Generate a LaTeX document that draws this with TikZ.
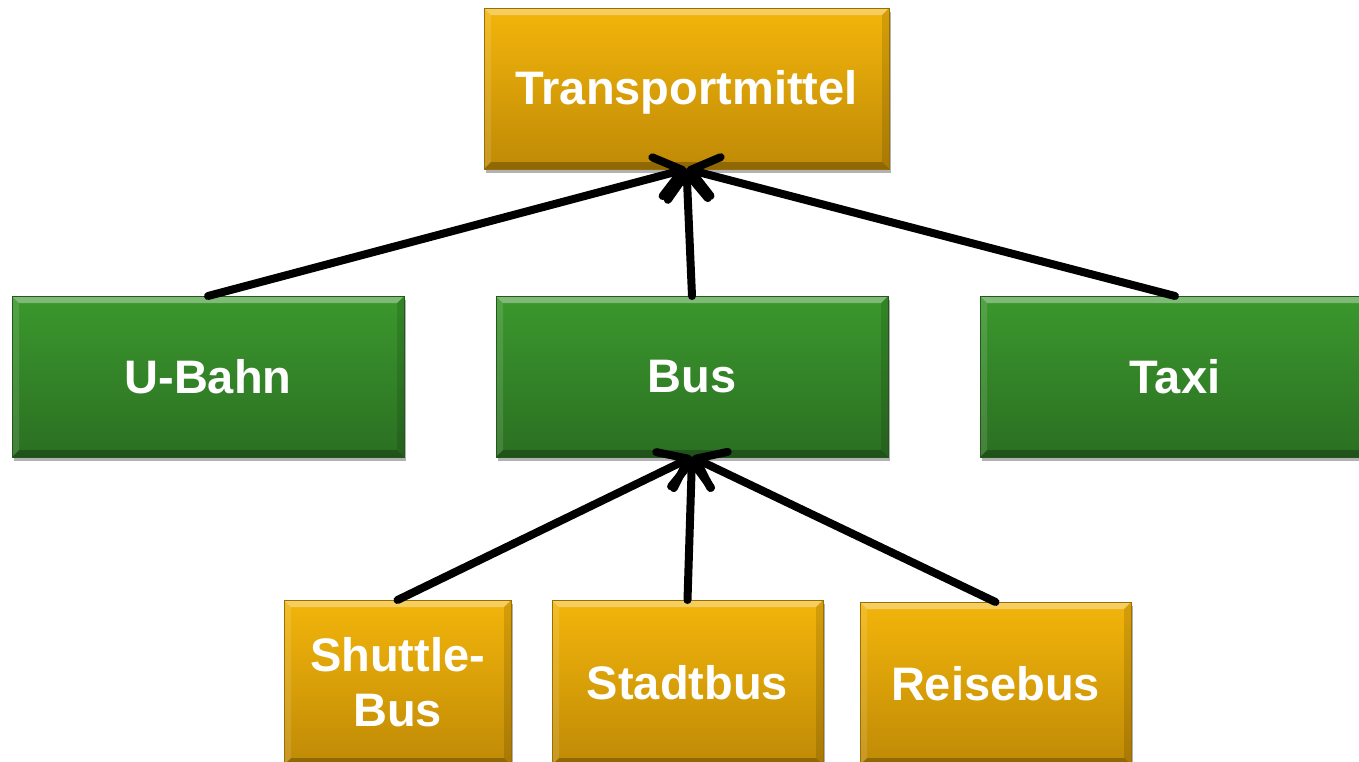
\documentclass[tikz,border=0pt]{standalone}
\usepackage{fontspec}
\setmainfont{Liberation Sans}
\usetikzlibrary{arrows.meta,shadows}
\definecolor{orT}{HTML}{F3B50B}
\definecolor{orB}{HTML}{BF8A06}
\definecolor{grT}{HTML}{3B982D}
\definecolor{grB}{HTML}{2B6F22}
\tikzset{
  bevel/.style={path picture={
    \fill[white,opacity=.35] (path picture bounding box.north west) -- (path picture bounding box.north east)
      -- ([xshift=-7pt,yshift=-7pt]path picture bounding box.north east) -- ([xshift=7pt,yshift=-7pt]path picture bounding box.north west) -- cycle;
    \fill[white,opacity=.12] (path picture bounding box.north west) -- (path picture bounding box.south west)
      -- ([xshift=7pt,yshift=7pt]path picture bounding box.south west) -- ([xshift=7pt,yshift=-7pt]path picture bounding box.north west) -- cycle;
    \fill[black,opacity=.12] (path picture bounding box.north east) -- (path picture bounding box.south east)
      -- ([xshift=-7pt,yshift=7pt]path picture bounding box.south east) -- ([xshift=-7pt,yshift=-7pt]path picture bounding box.north east) -- cycle;
    \fill[black,opacity=.25] (path picture bounding box.south west) -- (path picture bounding box.south east)
      -- ([xshift=-7pt,yshift=7pt]path picture bounding box.south east) -- ([xshift=7pt,yshift=7pt]path picture bounding box.south west) -- cycle;
  }},
  box/.style={rectangle, inner sep=0pt, outer sep=0pt, text=white, align=center,
    font=\fontsize{47}{55}\selectfont\bfseries, bevel,
    drop shadow={shadow xshift=2pt, shadow yshift=-4pt, opacity=.3, fill=black}},
  orbox/.style={box, top color=orT, bottom color=orB, draw=orB!80!black, line width=0.6pt},
  grbox/.style={box, top color=grT, bottom color=grB, draw=grB!80!black, line width=0.6pt},
  conn/.style={line width=8pt, line cap=round,
    -{Straight Barb[length=26pt, width=40pt, round, line width=8pt]}},
}
\begin{document}
\begin{tikzpicture}[x=1pt,y=-1pt]
\useasboundingbox (0,0) rectangle (1359,761);
\fill[white] (0,0) rectangle (1359,761);
\node[orbox, minimum width=405pt, minimum height=161pt, text height=36pt, text depth=4pt] (tm) at (686.5,88.5) {Transportmittel};
\node[grbox, minimum width=392pt, minimum height=161pt] (ubahn) at (208,376.5) {U-Bahn};
\node[grbox, minimum width=392pt, minimum height=161pt] (bus) at (692,376.5) {Bus};
\node[grbox, minimum width=390pt, minimum height=161pt] (taxi) at (1175,376.5) {Taxi};
\node[orbox, minimum width=227pt, minimum height=165pt] (shuttle) at (397.5,682.5) {Shuttle-\\Bus};
\node[orbox, minimum width=271pt, minimum height=165pt] (stadt) at (687.5,682.5) {Stadtbus};
\node[orbox, minimum width=271pt, minimum height=163pt] (reise) at (995.5,683.5) {Reisebus};
\draw[conn] (ubahn.north) -- (tm.south);
\draw[conn] (bus.north) -- (tm.south);
\draw[conn] (taxi.north) -- (tm.south);
\draw[conn] (shuttle.north) -- (bus.south);
\draw[conn] (stadt.north) -- (bus.south);
\draw[conn] (reise.north) -- (bus.south);
\end{tikzpicture}
\end{document}
